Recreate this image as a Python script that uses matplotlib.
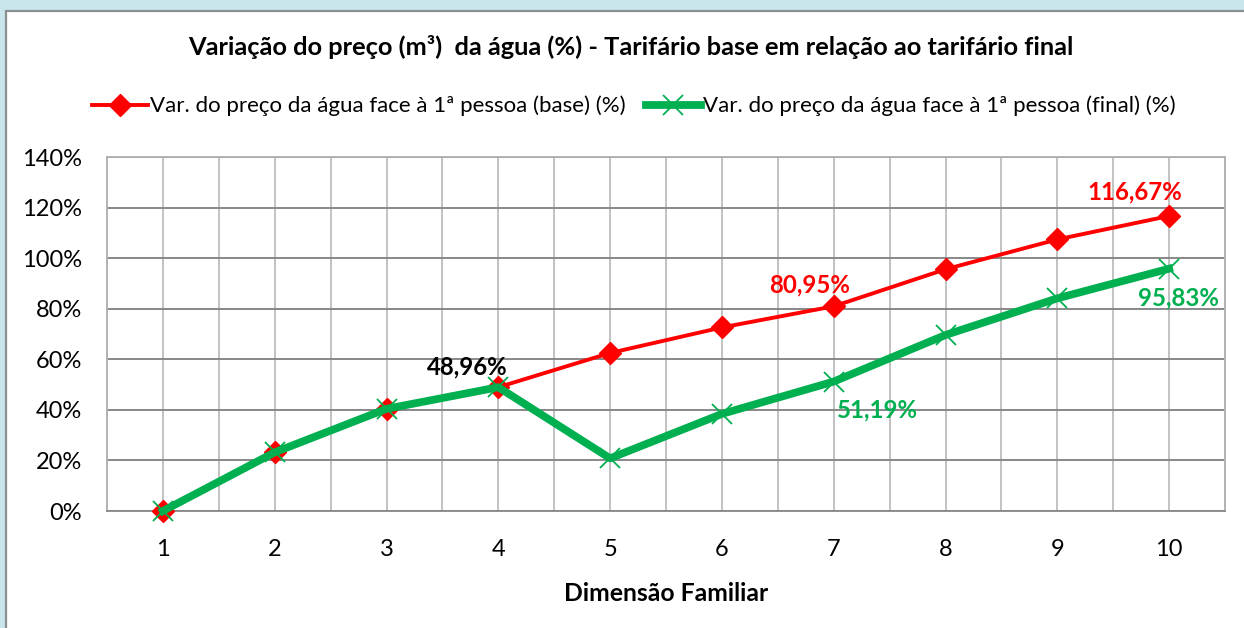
import matplotlib
matplotlib.use("Agg")
import matplotlib.pyplot as plt
from matplotlib.patches import Rectangle
from matplotlib.ticker import FuncFormatter, MultipleLocator

plt.rcParams['font.family'] = ['Lato', 'DejaVu Sans']

# Data
dimensao = [1, 2, 3, 4, 5, 6, 7, 8, 9, 10]
var_base = [0.0, 23.2, 40.4, 48.96, 62.5, 72.6, 80.95, 95.6, 107.4, 116.67]
var_final = [0.0, 23.2, 40.4, 48.96, 20.83, 38.4, 51.19, 69.6, 84.1, 95.83]
y_ticks = [0, 20, 40, 60, 80, 100, 120, 140]

titulo = "Variação do preço (m³)  da água (%) - Tarifário base em relação ao tarifário final"
nome_base = "Var. do preço da água face à 1ª pessoa (base) (%)"
nome_final = "Var. do preço da água face à 1ª pessoa (final) (%)"
eixo_x = "Dimensão Familiar"

RED = "#ff0000"
GREEN = "#00b050"

W, H = 1244, 628
fig = plt.figure(figsize=(W / 100, H / 100), dpi=100)
fig.patch.set_facecolor("#c9e6ed")

# White chart frame
frame = Rectangle((5.5 / W, -0.01), 1.0, 1.01 - 10.5 / H, transform=fig.transFigure,
                  facecolor="white", edgecolor="#8a8f91", linewidth=1.6, zorder=-10)
fig.patches.append(frame)

ax = fig.add_axes([107 / W, 1 - 511 / H, (1225 - 107) / W, (511 - 157) / H])
ax.set_zorder(1)
ax.set_facecolor("white")
ax.set_xlim(0.5, 10.5)
ax.set_ylim(0, 140)
ax.set_yticks(y_ticks)
ax.yaxis.set_major_formatter(FuncFormatter(lambda v, p: f"{v:.0f}%"))
ax.set_xticks(dimensao)
ax.xaxis.set_minor_locator(MultipleLocator(0.5))

ax.grid(axis="y", which="major", color="#888888", linewidth=1.4, zorder=1)
ax.grid(axis="x", which="both", color="#bdbdbd", linewidth=1.3, zorder=1)
for s in ax.spines.values():
    s.set_color("#b0b0b0")
    s.set_linewidth(1.3)
ax.spines["bottom"].set_color("#888888")
ax.tick_params(which="both", length=0)
ax.tick_params(axis="y", labelsize=17, pad=18, colors="black")
ax.tick_params(axis="x", labelsize=17, pad=20, colors="black")

ax.plot(dimensao, var_base, color=RED, linewidth=2.8, marker="D", markersize=11,
        markerfacecolor=RED, markeredgecolor=RED, zorder=3, clip_on=False, label=nome_base)
ax.plot(dimensao, var_final, color=GREEN, linewidth=5.6, marker="x", markersize=14,
        markeredgewidth=1.3, markeredgecolor=GREEN, zorder=4, clip_on=False, label=nome_final)

# Data labels
def pct(v):
    return f"{v:.2f}%".replace(".", ",")

lab_kw = dict(fontsize=17.3, fontweight="bold", ha="center", va="center", zorder=5)
ax.annotate(pct(var_base[3]), (dimensao[3], var_base[3]), xytext=(-31, 20),
            textcoords="offset pixels", color="black", **lab_kw)
ax.annotate(pct(var_base[6]), (dimensao[6], var_base[6]), xytext=(-24, 21),
            textcoords="offset pixels", color=RED, **lab_kw)
ax.annotate(pct(var_base[9]), (dimensao[9], var_base[9]), xytext=(-34, 24),
            textcoords="offset pixels", color=RED, **lab_kw)
ax.annotate(pct(var_final[6]), (dimensao[6], var_final[6]), xytext=(44, -28),
            textcoords="offset pixels", color=GREEN, **lab_kw)
ax.annotate(pct(var_final[9]), (dimensao[9], var_final[9]), xytext=(9, -29),
            textcoords="offset pixels", color=GREEN, **lab_kw)

ax.set_xlabel(eixo_x, fontsize=17.8, fontweight="bold", labelpad=16)

fig.text(631 / W, 1 - 47 / H, titulo, fontsize=18.3, fontweight="bold",
         ha="center", va="center")

leg = fig.legend(loc="center", bbox_to_anchor=(634 / W, 1 - 106 / H), ncol=2,
                 frameon=False, fontsize=16, handlelength=2.5, handletextpad=0.1,
                 columnspacing=0.9)

fig.savefig("out.png", dpi=100, facecolor=fig.get_facecolor())
